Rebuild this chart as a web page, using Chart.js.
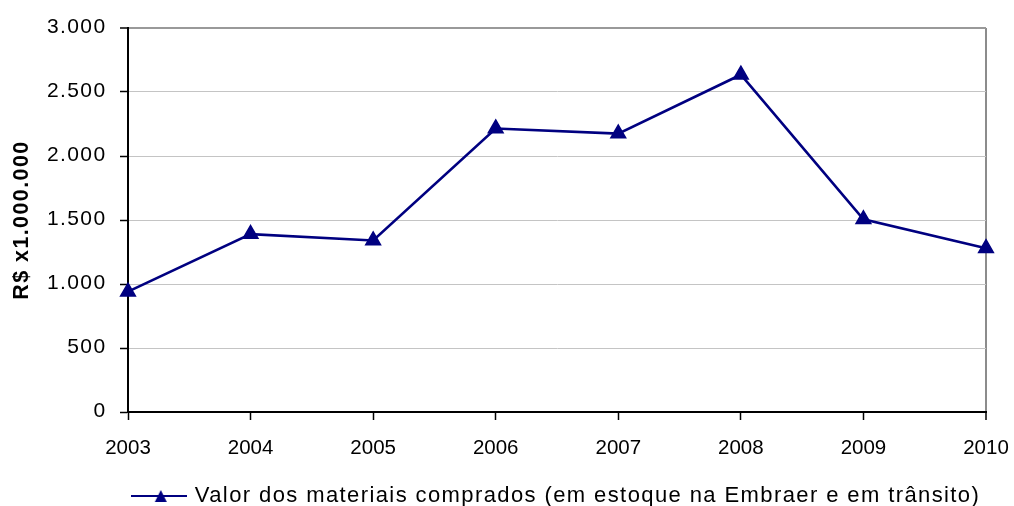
<!DOCTYPE html>
<html>
<head>
<meta charset="utf-8">
<script src="https://cdn.jsdelivr.net/npm/chart.js@4.4.1/dist/chart.umd.min.js"></script>
<style>
  html, body { margin: 0; padding: 0; background: #fff; }
  #wrap { width: 1014px; height: 506px; position: relative; }
</style>
</head>
<body>
<div id="wrap"><canvas id="chart"></canvas></div>
<script>
// Purchased materials value, R$ millions, per year
const years = ['2003', '2004', '2005', '2006', '2007', '2008', '2009', '2010'];
const valores = [940, 1390, 1340, 2215, 2175, 2635, 1505, 1280];
const yTicks = [0, 500, 1000, 1500, 2000, 2500, 3000];
const seriesName = 'Valor dos materiais comprados (em estoque na Embraer e em trânsito)';
const yTitle = 'R$ x1.000.000';

const NAVY = '#000080';
const SPACING = '1.4px';

// Brazilian thousands separator: 3000 -> "3.000"
const fmt = v => String(v).replace(/\B(?=(\d{3})+(?!\d))/g, '.');

// Legend glyph: a short line with a triangle in the middle
function legendGlyph() {
  const c = document.createElement('canvas');
  c.width = 56; c.height = 16;
  const g = c.getContext('2d');
  g.strokeStyle = NAVY; g.lineWidth = 2;
  g.beginPath(); g.moveTo(0, 8); g.lineTo(56, 8); g.stroke();
  g.fillStyle = NAVY;
  g.beginPath(); g.moveTo(30, 2); g.lineTo(36, 14); g.lineTo(24, 14); g.closePath(); g.fill();
  return c;
}

// Slightly spaced-out lettering everywhere except the year labels
const spacing = {
  id: 'spacing',
  beforeLayout(chart) { chart.ctx.letterSpacing = SPACING; },
  afterLayout(chart) {
    const sx = chart.scales.x;
    if (sx && !sx._plainLabels) {
      const orig = sx.drawLabels.bind(sx);
      sx.drawLabels = area => {
        const ctx = chart.ctx;
        const prev = ctx.letterSpacing;
        ctx.letterSpacing = '0px';
        orig(area);
        ctx.letterSpacing = prev;
      };
      sx._plainLabels = true;
    }
  },
  beforeDraw(chart) { chart.ctx.letterSpacing = SPACING; }
};

Chart.defaults.font.family = "'Liberation Sans', Arial, sans-serif";
Chart.defaults.color = '#000';

new Chart(document.getElementById('chart'), {
  type: 'line',
  data: {
    labels: years,
    datasets: [{
      label: seriesName,
      data: valores,
      borderColor: NAVY,
      backgroundColor: NAVY,
      borderWidth: 2.6,
      tension: 0,
      pointStyle: 'triangle',
      pointRadius: 8.5,
      pointHoverRadius: 8.5,
      pointBorderWidth: 1.5,
      pointBackgroundColor: NAVY,
      pointBorderColor: NAVY,
      clip: false
    }]
  },
  options: {
    responsive: true,
    maintainAspectRatio: false,
    animation: false,
    layout: { padding: { top: 28, right: 28, bottom: 0, left: 0 } },
    plugins: {
      tooltip: { enabled: false },
      legend: {
        position: 'bottom',
        fullSize: false,
        maxHeight: 21,
        labels: {
          usePointStyle: true,
          pointStyle: legendGlyph(),
          pointStyleWidth: 50,
          padding: 0,
          font: { size: 22 },
          color: '#000'
        }
      }
    },
    scales: {
      x: {
        type: 'category',
        offset: false,
        afterFit: s => { s.height = 73; s.paddingLeft = 0; s.paddingRight = 0; },
        grid: {
          display: true,
          drawOnChartArea: true,
          color: c => c.index === years.length - 1 ? '#8c8c8c' : 'rgba(0,0,0,0)',
          lineWidth: c => c.index === years.length - 1 ? 2 : 1,
          tickColor: '#000',
          tickLength: 8,
          tickWidth: 1.5
        },
        border: { display: true, color: '#000', width: 2 },
        ticks: {
          font: { size: 20.5 },
          color: '#000',
          padding: 16.5,
          maxRotation: 0,
          autoSkip: false
        }
      },
      y: {
        min: 0,
        max: 3000,
        afterFit: s => { s.width = 128; s.paddingTop = 0; s.paddingBottom = 0; },
        afterBuildTicks: s => { s.ticks = yTicks.map(v => ({ value: v })); },
        grid: {
          color: c => c.tick && c.tick.value === 3000 ? '#999999' : '#c4c4c4',
          lineWidth: c => c.tick && c.tick.value === 3000 ? 2 : 1,
          tickColor: '#000',
          tickLength: 8,
          tickWidth: 1.5
        },
        border: { display: true, color: '#000', width: 2 },
        ticks: {
          font: { size: 21 },
          color: '#000',
          padding: 13.5,
          labelOffset: -1,
          callback: v => fmt(v)
        },
        title: {
          display: true,
          text: yTitle,
          font: { size: 21.5, weight: 'bold' },
          color: '#000',
          padding: { top: 9.5, bottom: 0 }
        }
      }
    }
  },
  plugins: [spacing]
});
</script>
</body>
</html>
